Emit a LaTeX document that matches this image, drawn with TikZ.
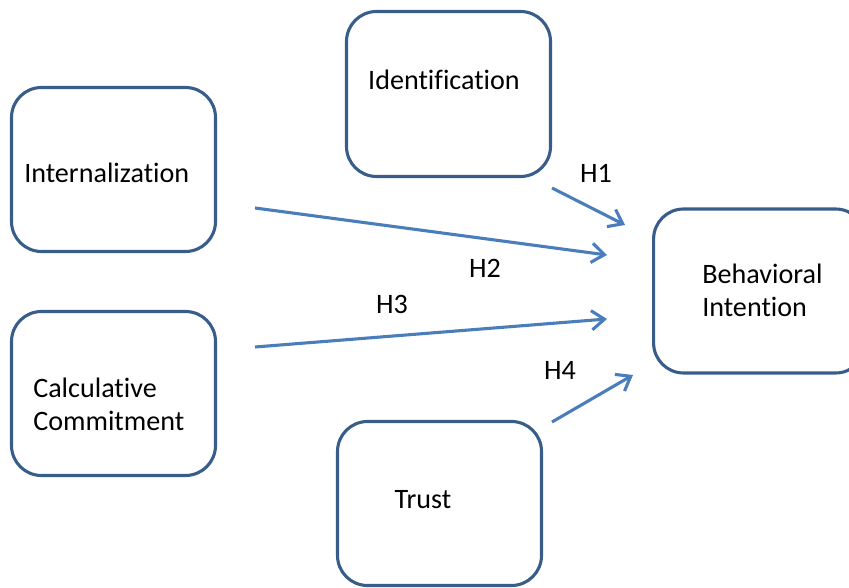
\documentclass[tikz,border=0pt]{standalone}
\usepackage{fontspec}
\setmainfont{Carlito}[Ligatures=NoCommon]
\usetikzlibrary{arrows.meta}
\definecolor{boxline}{HTML}{385D8A}
\definecolor{arrline}{HTML}{4A7EBB}

\tikzset{
  box/.style={draw=boxline, line width=2.2pt, rounded corners=0.75cm,
              minimum width=5.1cm, minimum height=4.1cm, inner sep=0pt},
  txt/.style={inner sep=0pt, align=left, font=\fontsize{20}{23.5}\selectfont},
  hyp/.style={inner sep=0pt, font=\fontsize{20}{23.5}\selectfont},
  arr/.style={draw=arrline, line width=2.2pt,
              -{Straight Barb[length=3.2mm,width=4.8mm]}}
}

\begin{document}
\begin{tikzpicture}
   \clip (0,0) rectangle (21.225,14.7);

   % boxes
   \node [box] (int) at (2.8375,10.4625) {};
   \node [box, minimum height=4.125cm] (ide) at (11.2125,12.35) {};
   \node [box] (cal) at (2.8375,4.8625) {};
   \node [box] (tru) at (10.9875,2.1125) {};
   \node [box, minimum width=5.3cm] (beh) at (18.99,7.425) {};

   % box texts
   \node [txt, anchor=west] (intT) at (0.6,10.375) {Internalization};
   \node [txt] (ideT) at (11.1,12.7) {Identification};
   \node [txt, anchor=west] (calT) at (0.825,4.5875) {Calculative\\Commitment};
   \node [txt] (truT) at (10.575,2.2) {Trust};
   \node [txt, anchor=west] (behT) at (17.55,7.4375) {Behavioral\\Intention};

   % arrow ends
   \coordinate (h1s) at (13.8,10.0);
   \coordinate (h1e) at (15.625,9.075);
   \coordinate (h2s) at (6.375,9.5);
   \coordinate (h2e) at (15.175,8.325);
   \coordinate (h3s) at (6.375,6.025);
   \coordinate (h3e) at (15.175,6.725);
   \coordinate (h4s) at (13.8,4.15);
   \coordinate (h4e) at (15.825,5.325);

   \draw [arr] (h1s) -- (h1e);
   \draw [arr] (h2s) -- (h2e);
   \draw [arr] (h3s) -- (h3e);
   \draw [arr] (h4s) -- (h4e);

   % hypotheses
   \node [hyp] (H1) at (14.9,10.375) {H1};
   \node [hyp] (H2) at (12.125,8.0) {H2};
   \node [hyp] (H3) at (9.8,7.1) {H3};
   \node [hyp] (H4) at (14.0,5.45) {H4};

\end{tikzpicture}
\end{document}
